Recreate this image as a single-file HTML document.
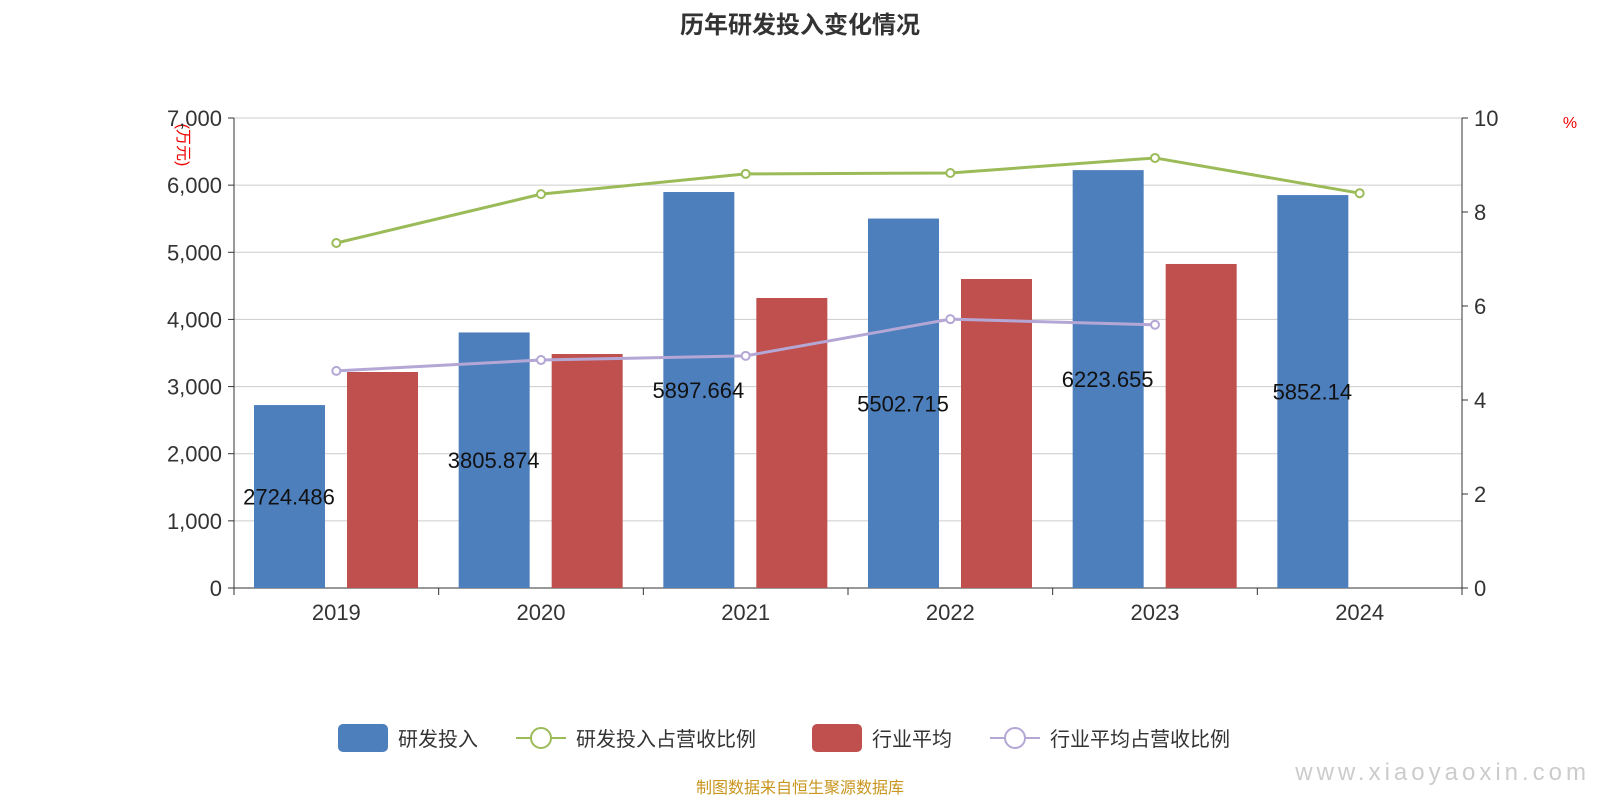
<!DOCTYPE html>
<html><head><meta charset="utf-8"><style>
body{margin:0;background:#fff;}
svg text{font-family:"Liberation Sans","Noto Sans CJK SC",sans-serif;}
</style></head><body>
<svg id="c" width="1600" height="800" xmlns="http://www.w3.org/2000/svg">
<text x="800" y="33" text-anchor="middle" font-size="24" font-weight="bold" fill="#333">历年研发投入变化情况</text>
<text x="178" y="145" font-size="16" fill="#e00" transform="rotate(90 178 145)" text-anchor="middle">(万元)</text>
<text x="1570" y="128" font-size="16" fill="#e00" text-anchor="middle">%</text>
<g id="grid"></g><g id="bars"></g><g id="lines"></g><g id="axes"></g>
<g font-size="20" fill="#333">
<rect x="338" y="724" width="50" height="28" rx="5" fill="#4e7fbd"/>
<text x="398" y="746">研发投入</text>
<line x1="516" y1="738" x2="566" y2="738" stroke="#9bbb59" stroke-width="2"/><circle cx="541" cy="738" r="10" fill="#fff" stroke="#9bbb59" stroke-width="2"/>
<text x="576" y="746">研发投入占营收比例</text>
<rect x="812" y="724" width="50" height="28" rx="5" fill="#c0504d"/>
<text x="872" y="746">行业平均</text>
<line x1="990" y1="738" x2="1040" y2="738" stroke="#b4a7d6" stroke-width="2"/><circle cx="1015" cy="738" r="10" fill="#fff" stroke="#b4a7d6" stroke-width="2"/>
<text x="1050" y="746">行业平均占营收比例</text>
</g>
<text x="800" y="793" text-anchor="middle" font-size="16" fill="#c8951e">制图数据来自恒生聚源数据库</text>
<text x="1590" y="780" text-anchor="end" font-size="24" fill="#ccc" letter-spacing="4">www.xiaoyaoxin.com</text>
</svg>
<script>
const categories=["2019","2020","2021","2022","2023","2024"];
const rdValues=[2724.486,3805.874,5897.664,5502.715,6223.655,5852.14];
const rdLabels=["2724.486","3805.874","5897.664","5502.715","6223.655","5852.14"];
const industryValues=[3217,3485,4319,4602,4826,null];
const rdRatio=[7.34,8.38,8.81,8.83,9.15,8.40];
const industryRatio=[4.62,4.85,4.94,5.72,5.60,null];
const leftTicks=[0,1000,2000,3000,4000,5000,6000,7000];
const rightTicks=[0,2,4,6,8,10];
const NS="http://www.w3.org/2000/svg";
const X0=234,X1=1462,Y0=588,Y1=118,bw=(X1-X0)/categories.length;
const yL=v=>Y0-(v/7000)*(Y0-Y1);
const yR=v=>Y0-(v/10)*(Y0-Y1);
const bx=i=>X0+i*bw;
function mk(t,a,p){const e=document.createElementNS(NS,t);for(const k in a)e.setAttribute(k,a[k]);p.appendChild(e);return e;}
const grid=document.getElementById('grid'),bars=document.getElementById('bars'),lines=document.getElementById('lines'),axes=document.getElementById('axes');
leftTicks.forEach(v=>{
 const l=mk('line',{x1:X0,x2:X1,y1:yL(v),y2:yL(v),stroke:v?'#ccc':'#333','stroke-width':1},grid);
 
 
 const t=mk('text',{x:X0-12,y:yL(v)+8,'text-anchor':'end','font-size':22,fill:'#333'},axes);
 t.textContent=v.toLocaleString('en-US');
 
 
 mk('line',{x1:X0-6,x2:X0,y1:yL(v),y2:yL(v),stroke:'#333'},axes);
});
rightTicks.forEach(v=>{
 const t=mk('text',{x:X1+12,y:yR(v)+8,'font-size':22,fill:'#333'},axes);
 t.textContent=v;
 
 
 mk('line',{x1:X1,x2:X1+6,y1:yR(v),y2:yR(v),stroke:'#333'},axes);
});
mk('line',{x1:X0,x2:X0,y1:Y1,y2:Y0,stroke:'#333'},axes);
mk('line',{x1:X1,x2:X1,y1:Y1,y2:Y0,stroke:'#333'},axes);
for(let i=0;i<=categories.length;i++)mk('line',{x1:bx(i),x2:bx(i),y1:Y0,y2:Y0+7,stroke:'#333'},axes);
categories.forEach((c,i)=>{
 const t=mk('text',{x:bx(i)+bw/2,y:Y0+32,'text-anchor':'middle','font-size':22,fill:'#333'},axes);
 t.textContent=c;
 
 
 const r=mk('rect',{x:bx(i)+20,y:yL(rdValues[i]),width:71,height:Y0-yL(rdValues[i]),fill:'#4e7fbd'},bars);
 
 
 if(industryValues[i]!=null){
  const r2=mk('rect',{x:bx(i)+113,y:yL(industryValues[i]),width:71,height:Y0-yL(industryValues[i]),fill:'#c0504d'},bars);
  
  
 }
});
function line(data,color,name){
 const pts=[];data.forEach((v,i)=>{if(v!=null)pts.push([bx(i)+bw/2,yR(v)]);});
 const p=mk('polyline',{points:pts.map(p=>p.join(',')).join(' '),fill:'none',stroke:color,'stroke-width':3},lines);
 
 
 pts.forEach(q=>{
  const c=mk('circle',{cx:q[0],cy:q[1],r:4,fill:'#fff',stroke:color,'stroke-width':2},lines);
  
  
 });
}
line(rdRatio,'#9bbb59','rd-ratio');
line(industryRatio,'#b4a7d6','industry-ratio');
categories.forEach((c,i)=>{
 const t=mk('text',{x:bx(i)+55,y:(yL(rdValues[i])+Y0)/2+8,'text-anchor':'middle','font-size':22,fill:'#111'},lines);
 t.textContent=rdLabels[i];
 
 
});
</script>
</body></html>
